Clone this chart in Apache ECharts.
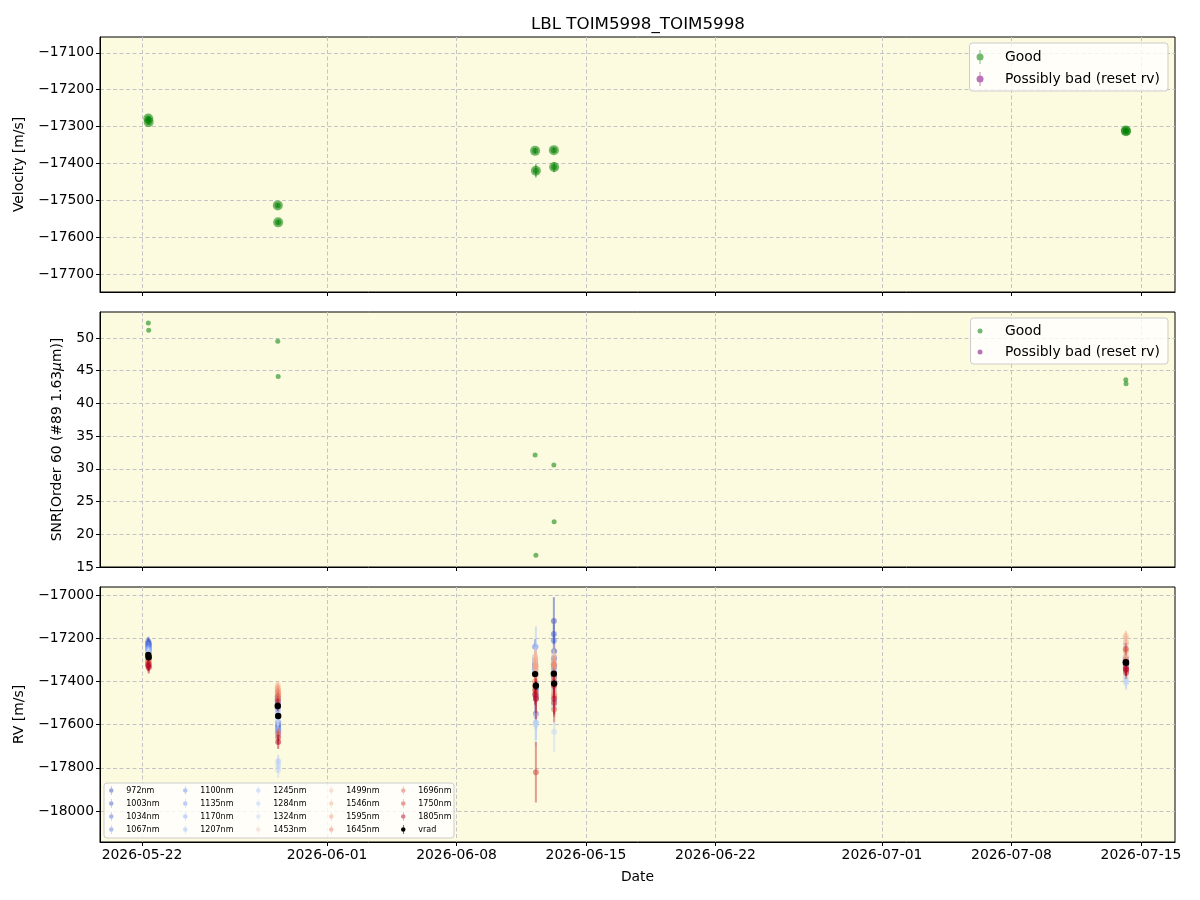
<!DOCTYPE html>
<html>
<head>
<meta charset="utf-8">
<title>LBL TOIM5998_TOIM5998</title>
<script src="https://cdn.jsdelivr.net/npm/echarts@6/dist/echarts.min.js"></script>
<style>
  html, body { margin: 0; padding: 0; background: #fff; }
  #chart { width: 1200px; height: 900px; }
</style>
</head>
<body>
<div id="chart"></div>
<script>
// observation epochs (UTC), two per night
const obsTimes = [
  '2026-05-22T08:10:00Z', '2026-05-22T08:40:00Z',
  '2026-05-29T08:10:00Z', '2026-05-29T08:40:00Z',
  '2026-06-12T06:00:00Z', '2026-06-12T07:00:00Z',
  '2026-06-13T06:20:00Z', '2026-06-13T06:40:00Z',
  '2026-07-14T04:20:00Z', '2026-07-14T04:40:00Z'
];
const velocity = [-17278, -17288, -17514, -17560, -17366, -17420, -17364, -17410, -17311, -17313];
const velocityErr = [6, 6, 5, 6, 7, 18, 8, 14, 6, 6];
const snr = [52.3, 51.2, 49.5, 44.1, 32.1, 16.8, 30.6, 21.9, 43.6, 43.0];

const bands = [972, 1003, 1034, 1067, 1100, 1135, 1170, 1207, 1245, 1284, 1324,
  1453, 1499, 1546, 1595, 1645, 1696, 1750, 1805];

// per-band rv for each observation (same order as bands)
const rvObs0 = [-17215, -17225, -17235, -17230, -17245, -17250, -17255, -17262, -17270, -17268, -17275, -17285, -17290, -17292, -17300, -17305, -17310, -17318, -17325];
const rvObs1 = [-17225, -17232, -17245, -17240, -17255, -17258, -17262, -17270, -17280, -17278, -17290, -17295, -17300, -17305, -17310, -17318, -17322, -17330, -17335];
const rvObs2 = [-17480, -17470, -17490, -17500, -17510, -17520, -17530, -17545, -17560, -17575, -17590, -17440, -17430, -17420, -17435, -17450, -17470, -17490, -17510];
const rvObs3 = [-17600, -17590, -17610, -17620, -17630, -17625, -17640, -17650, -17770, -17790, -17810, -17470, -17455, -17445, -17460, -17480, -17640, -17660, -17680];
const rvObs4 = [-17330, -17310, -17240, -17320, -17340, -17350, -17335, -17300, -17290, -17300, -17330, -17310, -17285, -17300, -17330, -17400, -17420, -17440, -17460];
const rvObs5 = [-17440, -17460, -17550, -17480, -17430, -17410, -17470, -17590, -17240, -17600, -17560, -17380, -17350, -17330, -17420, -17450, -17470, -17820, -17480];
const rvObs6 = [-17120, -17180, -17210, -17300, -17320, -17340, -17350, -17380, -17360, -17370, -17400, -17280, -17300, -17320, -17330, -17320, -17380, -17400, -17420];
const rvObs7 = [-17260, -17290, -17330, -17380, -17400, -17440, -17460, -17500, -17490, -17520, -17633, -17440, -17420, -17450, -17460, -17470, -17530, -17500, -17480];
const rvObs8 = [-17300, -17290, -17310, -17320, -17305, -17315, -17330, -17290, -17230, -17380, -17395, -17250, -17200, -17190, -17260, -17300, -17320, -17250, -17340];
const rvObs9 = [-17310, -17300, -17320, -17330, -17315, -17325, -17335, -17360, -17300, -17400, -17405, -17280, -17290, -17220, -17310, -17340, -17350, -17360, -17345];

const errObs0 = [22, 20, 18, 18, 16, 16, 18, 20, 24, 26, 28, 28, 24, 20, 18, 18, 20, 22, 26];
const errObs1 = [24, 20, 18, 20, 16, 18, 18, 22, 24, 28, 30, 28, 24, 22, 18, 20, 22, 24, 28];
const errObs2 = [25, 22, 20, 20, 18, 18, 20, 22, 26, 30, 32, 30, 26, 22, 20, 20, 22, 24, 28];
const errObs3 = [30, 26, 24, 24, 22, 22, 24, 26, 30, 34, 36, 34, 30, 26, 24, 24, 26, 28, 32];
const errObs4 = [45, 40, 36, 36, 32, 32, 36, 40, 45, 50, 55, 50, 44, 38, 35, 35, 38, 42, 48];
const errObs5 = [90, 80, 70, 70, 65, 65, 70, 80, 95, 100, 110, 100, 88, 76, 70, 70, 76, 140, 95];
const errObs6 = [110, 45, 40, 40, 35, 35, 40, 44, 50, 55, 60, 55, 48, 42, 38, 38, 42, 46, 52];
const errObs7 = [80, 65, 55, 55, 50, 50, 55, 62, 70, 78, 95, 78, 68, 58, 54, 54, 58, 64, 72];
const errObs8 = [28, 25, 22, 22, 20, 20, 22, 25, 28, 32, 34, 32, 28, 25, 22, 22, 25, 27, 30];
const errObs9 = [28, 26, 22, 24, 20, 22, 22, 26, 28, 32, 35, 32, 28, 26, 22, 24, 25, 28, 30];

const rvByObs = [rvObs0, rvObs1, rvObs2, rvObs3, rvObs4, rvObs5, rvObs6, rvObs7, rvObs8, rvObs9];
const errByObs = [errObs0, errObs1, errObs2, errObs3, errObs4, errObs5, errObs6, errObs7, errObs8, errObs9];

// axis ticks
const dateTicks = ['2026-05-22', '2026-06-01', '2026-06-08', '2026-06-15', '2026-06-22', '2026-07-01', '2026-07-08', '2026-07-15'];
const velTicks = [-17700, -17600, -17500, -17400, -17300, -17200, -17100];
const snrTicks = [15, 20, 25, 30, 35, 40, 45, 50];
const rvTicks = [-18000, -17800, -17600, -17400, -17200, -17000];

// coolwarm colours sampled at each band wavelength
const bandColors = ['#3b4cc0', '#465dce', '#516ddb', '#5e7de7', '#6b8df0', '#7a9df8', '#89acfd',
  '#98b9ff', '#a8c5fe', '#b8d0f9', '#c7d7f1', '#eed0bf', '#f5c2a9', '#f7b194', '#f49b7c',
  '#ed8165', '#df634f', '#cc4039', '#b40426'];

const FONT = 'DejaVu Sans';
const BG = '#fcfbe0';
const ebIcon = 'path://M4.5,0H5.5V16H4.5Z M1,8A4,4 0 1,1 9,8A4,4 0 1,1 1,8Z';

// dates are handled as UTC milliseconds on a value axis
const t = (s) => Date.parse(s.length === 10 ? s + 'T00:00:00Z' : s);
const xMin = t('2026-05-19T17:30:00Z');
const xMax = t('2026-07-16T20:10:00Z');
const minus = (v) => String(v).replace('-', '\u2212');
const pad2 = (n) => (n < 10 ? '0' : '') + n;
const fmtDate = (v) => {
  const d = new Date(v);
  return d.getUTCFullYear() + '-' + pad2(d.getUTCMonth() + 1) + '-' + pad2(d.getUTCDate());
};

const chart = echarts.init(document.getElementById('chart'));

function errorBarRender(color, radius, lineWidth, opacity, inner) {
  return function (params, api) {
    const x = api.value(0);
    const y = api.value(1);
    const e = api.value(2);
    const c = api.coord([x, y]);
    const hi = api.coord([x, y + e]);
    const lo = api.coord([x, y - e]);
    const children = [
      { type: 'line', shape: { x1: c[0], y1: hi[1], x2: c[0], y2: lo[1] }, style: { stroke: color, lineWidth: lineWidth, opacity: opacity } },
      { type: 'circle', shape: { cx: c[0], cy: c[1], r: radius }, style: { fill: color, opacity: opacity } }
    ];
    if (inner) {
      children.push({ type: 'circle', shape: { cx: c[0], cy: c[1], r: inner }, style: { fill: color, opacity: opacity } });
    }
    return { type: 'group', children: children };
  };
}

function makeGrid(top) {
  return {
    left: 100, right: 25, top: top, height: 255,
    show: true, backgroundColor: BG, borderColor: '#000', borderWidth: 1
  };
}

const gridLine = { show: true, lineStyle: { color: '#c4c4c4', width: 1, type: [4, 2.5] } };

function makeX(i) {
  return {
    type: 'value', gridIndex: i, min: xMin, max: xMax,
    axisLine: { show: true, lineStyle: { color: '#000' } },
    axisTick: { show: true, length: 4, lineStyle: { color: '#000' }, customValues: dateTicks.map(t) },
    axisLabel: {
      show: i === 2, color: '#000', fontSize: 13.9, fontFamily: FONT, margin: 6,
      customValues: dateTicks.map(t),
      formatter: fmtDate
    },
    splitLine: gridLine,
    name: i === 2 ? 'Date' : '',
    nameLocation: 'middle', nameGap: 28,
    nameTextStyle: { color: '#000', fontSize: 13.9, fontFamily: FONT }
  };
}

function makeY(i, min, max, ticks, name, gap) {
  return {
    type: 'value', gridIndex: i, min: min, max: max,
    axisLine: { show: true, lineStyle: { color: '#000' } },
    axisTick: { show: true, length: 4, lineStyle: { color: '#000' }, customValues: ticks },
    axisLabel: { color: '#000', fontSize: 13.9, fontFamily: FONT, margin: 6, customValues: ticks, formatter: minus },
    splitLine: gridLine,
    name: name, nameLocation: 'middle', nameGap: gap,
    nameTextStyle: {
      color: '#000', fontSize: 13.9, fontFamily: FONT,
      rich: { i: { fontStyle: 'italic', fontSize: 13.9, fontFamily: FONT, color: '#000' } }
    }
  };
}

const series = [];

// panel 1: velocity
series.push({
  name: 'Good', type: 'custom', xAxisIndex: 0, yAxisIndex: 0,
  itemStyle: { color: 'green' },
  renderItem: errorBarRender('green', 5, 1.5, 0.55, 3),
  data: obsTimes.map((s, i) => [t(s), velocity[i], velocityErr[i]])
});
series.push({
  name: 'Possibly bad (reset rv)', type: 'custom', xAxisIndex: 0, yAxisIndex: 0,
  itemStyle: { color: 'purple' },
  renderItem: errorBarRender('purple', 5, 1.5, 0.55, 3),
  data: []
});

// panel 2: SNR
series.push({
  name: 'Good', type: 'scatter', xAxisIndex: 1, yAxisIndex: 1,
  symbolSize: 5, itemStyle: { color: 'green', opacity: 0.55 },
  data: obsTimes.map((s, i) => [t(s), snr[i]])
});
series.push({
  name: 'Possibly bad (reset rv)', type: 'scatter', xAxisIndex: 1, yAxisIndex: 1,
  symbolSize: 5, itemStyle: { color: 'purple', opacity: 0.55 },
  data: []
});

// panel 3: per-band rv
bands.forEach((b, k) => {
  series.push({
    name: b + 'nm', type: 'custom', xAxisIndex: 2, yAxisIndex: 2,
    itemStyle: { color: bandColors[k] },
    renderItem: errorBarRender(bandColors[k], 3, 2, 0.5),
    data: obsTimes.map((s, i) => [t(s), rvByObs[i][k], errByObs[i][k]])
  });
});
series.push({
  name: 'vrad', type: 'custom', xAxisIndex: 2, yAxisIndex: 2,
  itemStyle: { color: '#000' },
  renderItem: errorBarRender('#000', 3.2, 1.5, 1),
  data: obsTimes.map((s, i) => [t(s), velocity[i], velocityErr[i]])
});

const legendBox = {
  backgroundColor: 'rgba(255,255,255,0.8)', borderColor: '#cccccc', borderWidth: 1, borderRadius: 3,
  selectedMode: false, orient: 'vertical'
};

// wavelength legend: 5 columns of 4 entries inside one framed box
const rvLegendItems = bands.map((b, k) => ({ name: b + 'nm', icon: ebIcon, itemStyle: { color: bandColors[k], opacity: 0.5 } }))
  .concat([{ name: 'vrad', icon: ebIcon, itemStyle: { color: '#000', opacity: 1 } }]);
const rvLegendCols = [109, 183, 256, 329, 401].map((x, c) => ({
  orient: 'vertical', left: x, top: 786, padding: 0,
  itemWidth: 20, itemHeight: 9, itemGap: 4, selectedMode: false,
  textStyle: { fontSize: 8, fontFamily: FONT, color: '#000' },
  data: rvLegendItems.slice(c * 4, c * 4 + 4)
}));

const option = {
  animation: false,
  textStyle: { fontFamily: FONT },
  title: {
    text: 'LBL TOIM5998_TOIM5998', left: 526, top: 11,
    textStyle: { fontSize: 16.7, fontWeight: 'normal', color: '#000', fontFamily: FONT }
  },
  grid: [makeGrid(37), makeGrid(312), makeGrid(587)],
  xAxis: [makeX(0), makeX(1), makeX(2)],
  yAxis: [
    makeY(0, -17749, -17057, velTicks, 'Velocity [m/s]', 74),
    makeY(1, 15, 53.97, snrTicks, 'SNR[Order 60 (#89 1.63{i|μ}m)]', 36),
    makeY(2, -18143, -16963, rvTicks, 'RV [m/s]', 74)
  ],
  graphic: [{
    type: 'rect', z: 3, silent: true,
    shape: { x: 104, y: 783, width: 350, height: 55, r: 3 },
    style: { fill: 'rgba(255,255,255,0.8)', stroke: '#cccccc', lineWidth: 1 }
  }],
  legend: [
    Object.assign({}, legendBox, {
      right: 32, top: 43, itemWidth: 40, itemHeight: 14, itemGap: 8, padding: [7, 8, 5, 7],
      textStyle: { fontSize: 13.9, fontFamily: FONT, color: '#000' },
      data: [
        { name: 'Good', icon: ebIcon, itemStyle: { color: 'green', opacity: 0.55 } },
        { name: 'Possibly bad (reset rv)', icon: ebIcon, itemStyle: { color: 'purple', opacity: 0.55 } }
      ]
    }),
    Object.assign({}, legendBox, {
      right: 32, top: 318, itemWidth: 40, itemHeight: 5, itemGap: 7, padding: [6, 8, 5, 7],
      textStyle: { fontSize: 13.9, fontFamily: FONT, color: '#000' },
      data: [
        { name: 'Good', icon: 'circle', itemStyle: { color: 'green', opacity: 0.55 } },
        { name: 'Possibly bad (reset rv)', icon: 'circle', itemStyle: { color: 'purple', opacity: 0.55 } }
      ]
    })
  ].concat(rvLegendCols),
  series: series
};

chart.setOption(option);
</script>
</body>
</html>
